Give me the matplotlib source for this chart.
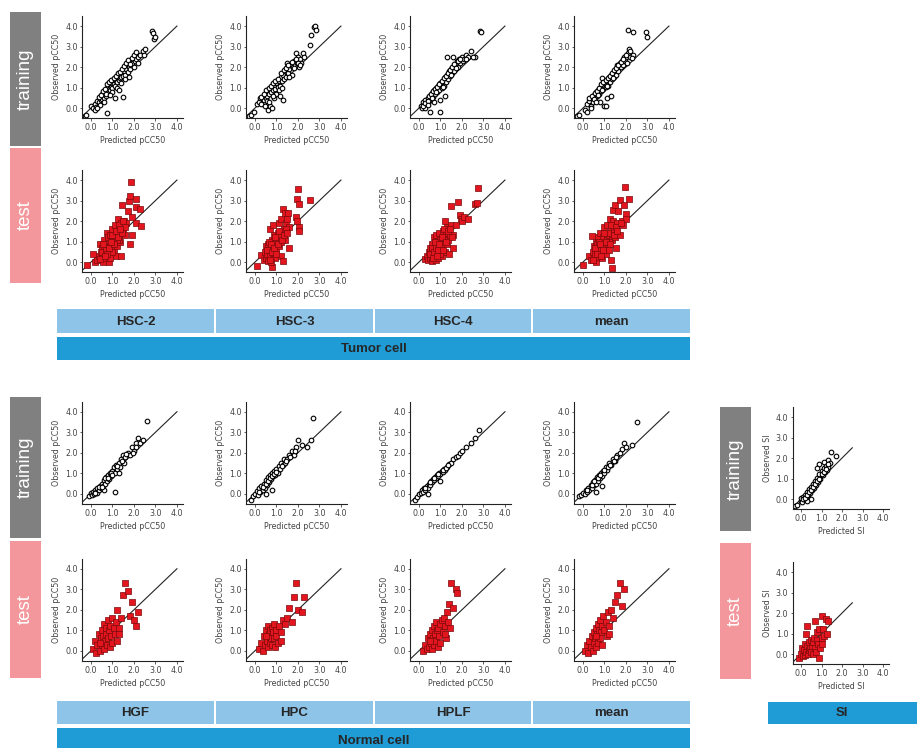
import numpy as np
import matplotlib
matplotlib.use("Agg")
import matplotlib.pyplot as plt
from matplotlib.patches import Rectangle

# ---------------- data (predicted, observed) ----------------
hsc2_train = [(-0.3,-0.4),(-0.25,-0.35),(0.0,0.1),(0.1,0.0),(0.2,0.2),(0.25,0.05),(0.3,0.35),(0.35,0.3),(0.4,0.5),(0.45,0.4),(0.5,0.45),(0.5,0.7),(0.55,0.6),(0.6,0.5),(0.6,0.8),(0.65,0.75),(0.7,0.9),(0.7,0.6),(0.75,1.0),(0.8,0.8),(0.8,1.1),(0.85,0.95),(0.9,0.9),(0.9,1.2),(0.95,1.05),(1.0,1.0),(1.0,1.3),(1.05,1.15),(1.1,1.1),(1.1,1.4),(1.15,1.3),(1.2,1.25),(1.25,1.5),(1.3,1.35),(1.3,1.6),(1.35,1.45),(1.4,1.5),(1.45,1.7),(1.5,1.55),(1.55,1.8),(1.6,1.6),(1.65,1.9),(1.7,1.75),(1.75,2.0),(1.8,1.9),(1.85,2.1),(1.9,2.2),(2.0,2.0),(2.05,2.3),(2.1,2.4),(2.2,2.5),(2.3,2.6),(2.4,2.8),(2.45,2.6),(2.5,2.9),(2.85,3.75),(2.9,3.65),(2.95,3.35),(3.0,3.45),(0.75,-0.25),(1.1,0.5),(1.5,0.55),(0.2,-0.1),(0.4,0.15),
              (0.35,0.55),(0.45,0.65),(0.55,0.85),(0.65,0.95),(0.7,0.7),(0.75,1.15),(0.85,1.25),(0.95,1.35),(1.0,0.8),(1.05,1.45),(1.15,1.55),(1.2,1.0),(1.25,1.7),(1.35,1.75),(1.4,1.2),(1.45,1.9),(1.55,2.05),(1.6,1.4),(1.65,2.2),(1.7,2.35),(1.8,2.15),(1.9,2.45),(2.0,2.6),(2.1,2.75),(2.2,2.2),(0.9,0.65),(0.6,0.3),(0.3,0.0),(1.3,0.9),(1.75,1.5)]
hsc2_test = [(-0.2,-0.15),(0.1,0.4),(0.2,0.0),(0.3,0.1),(0.35,0.3),(0.4,0.9),(0.45,0.5),(0.5,0.2),(0.5,0.7),(0.55,0.0),(0.6,0.4),(0.6,1.1),(0.65,0.6),(0.7,0.2),(0.7,0.9),(0.75,1.4),(0.8,0.5),(0.8,1.2),(0.85,0.0),(0.9,0.8),(0.9,1.3),(0.95,0.4),(1.0,1.0),(1.0,1.6),(1.05,0.6),(1.1,1.2),(1.1,1.8),(1.15,0.3),(1.2,1.4),(1.2,0.8),(1.25,2.1),(1.3,1.5),(1.35,1.0),(1.4,1.9),(1.4,0.3),(1.45,2.8),(1.5,1.6),(1.55,2.0),(1.6,1.3),(1.65,1.9),(1.7,2.5),(1.75,3.0),(1.8,3.2),(1.8,0.9),(1.85,3.9),(1.9,2.2),(1.9,1.3),(2.1,3.1),(2.1,2.7),(2.1,1.9),(2.3,2.6),(2.35,1.75),(1.3,1.1),(0.9,0.2),(1.0,0.5),(0.6,0.8),(1.2,1.1),(0.4,0.15),
             (0.5,0.5),(0.7,0.6),(0.75,0.4),(0.85,0.7),(1.0,1.3),(1.05,0.9),(1.15,1.5),(1.25,1.2),(1.3,1.8),(1.45,1.4),(1.5,2.0),(1.6,1.7),(0.65,0.3),(0.55,0.9),(0.95,1.0),(1.35,1.6)]
hsc3_train = [(-0.3,-0.4),(-0.2,-0.35),(-0.05,-0.2),(0.1,0.2),(0.2,0.3),(0.25,0.5),(0.3,0.2),(0.35,0.55),(0.4,0.4),(0.45,0.65),(0.5,0.5),(0.5,0.75),(0.55,0.6),(0.6,0.85),(0.6,-0.1),(0.65,0.7),(0.7,0.95),(0.7,0.1),(0.75,0.8),(0.8,1.0),(0.8,0.0),(0.85,0.9),(0.9,1.1),(0.95,0.95),(1.0,1.2),(1.0,0.7),(1.05,1.05),(1.1,1.3),(1.15,1.1),(1.2,1.5),(1.25,1.3),(1.3,1.6),(1.3,0.4),(1.35,1.4),(1.4,1.8),(1.45,1.5),(1.5,2.0),(1.5,2.2),(1.55,1.7),(1.6,1.9),(1.65,2.1),(1.7,1.6),(1.75,2.0),(1.8,2.3),(1.85,2.1),(1.9,2.7),(1.95,2.2),(2.0,2.5),(2.05,2.0),(2.1,2.4),(2.15,2.2),(2.25,2.7),(2.3,2.5),(2.55,3.1),(2.6,3.55),(2.75,3.95),(2.8,4.0),(2.85,3.8),(1.15,0.6),(0.9,0.5),
              (0.3,0.55),(0.4,0.7),(0.5,0.9),(0.55,0.35),(0.65,1.0),(0.75,1.1),(0.85,1.2),(0.95,1.3),(1.05,1.4),(1.1,0.9),(1.2,1.7),(1.25,1.0),(1.35,1.85),(1.45,1.95),(1.55,2.1),(1.6,1.5),(1.7,2.25),(1.8,1.95),(1.9,2.4),(2.0,2.2),(2.1,2.1),(0.45,0.1),(0.65,0.3),(0.85,0.6)]
hsc3_test = [(0.1,-0.2),(0.3,0.35),(0.4,0.1),(0.45,0.5),(0.5,0.2),(0.5,0.8),(0.55,0.4),(0.6,0.05),(0.6,0.9),(0.65,0.6),(0.7,1.6),(0.7,0.3),(0.75,0.7),(0.8,1.1),(0.8,-0.25),(0.85,1.8),(0.85,0.45),(0.9,0.9),(0.9,1.3),(0.95,0.2),(1.0,1.1),(1.0,0.6),(1.05,1.4),(1.1,0.8),(1.1,1.9),(1.15,1.2),(1.2,0.3),(1.2,2.1),(1.25,1.5),(1.3,2.6),(1.3,0.05),(1.35,1.6),(1.4,2.4),(1.4,1.1),(1.45,1.9),(1.5,2.1),(1.55,2.4),(1.6,0.7),(1.6,1.7),(1.9,2.2),(1.95,3.1),(1.95,2.0),(2.0,3.55),(2.05,2.85),(2.05,1.7),(2.05,1.5),(2.55,3.05),(1.0,1.0),(0.75,0.0),(1.2,1.0),
             (0.55,0.6),(0.65,1.0),(0.75,0.9),(0.8,0.5),(0.9,0.7),(0.95,1.2),(1.05,0.9),(1.1,1.5),(1.25,1.1),(1.35,1.3),(1.45,1.6),(1.5,1.4),(0.7,0.1),(1.0,0.4)]
hsc4_train = [(0.1,0.1),(0.15,0.0),(0.2,0.3),(0.25,0.15),(0.3,0.4),(0.35,0.2),(0.4,0.5),(0.45,0.35),(0.5,0.6),(0.5,-0.2),(0.55,0.45),(0.6,0.75),(0.65,0.55),(0.7,0.9),(0.75,0.7),(0.8,1.0),(0.85,0.8),(0.9,1.1),(0.95,0.9),(1.0,1.2),(1.0,-0.2),(1.0,0.4),(1.05,1.0),(1.1,1.3),(1.15,1.1),(1.2,1.5),(1.2,0.6),(1.25,1.25),(1.3,1.6),(1.3,2.5),(1.35,1.4),(1.4,1.8),(1.45,1.55),(1.5,1.9),(1.55,1.7),(1.6,2.5),(1.6,2.0),(1.65,1.8),(1.7,2.1),(1.75,2.3),(1.8,2.0),(1.85,2.4),(1.9,2.2),(2.0,2.5),(2.05,2.3),(2.1,2.4),(2.2,2.6),(2.3,2.5),(2.4,2.8),(2.6,2.5),(2.85,3.75),(2.9,3.7),(0.3,0.0),(0.7,0.3),
              (0.2,0.1),(0.3,0.25),(0.4,0.35),(0.45,0.6),(0.55,0.7),(0.6,0.5),(0.65,0.85),(0.75,0.95),(0.8,0.8),(0.85,1.05),(0.95,1.15),(1.05,1.3),(1.1,1.05),(1.15,1.45),(1.25,1.55),(1.35,1.7),(1.45,1.85),(1.5,1.6),(1.55,2.0),(1.65,2.15),(1.7,1.95),(1.8,2.3),(1.9,2.4),(2.2,2.4),(2.5,2.5),(0.4,0.15)]
hsc4_test = [(0.3,0.15),(0.35,0.3),(0.4,0.1),(0.45,0.5),(0.5,0.2),(0.5,0.7),(0.55,0.4),(0.6,0.9),(0.6,0.05),(0.65,0.6),(0.7,1.2),(0.7,0.3),(0.75,0.8),(0.8,1.3),(0.8,0.1),(0.85,0.5),(0.9,1.0),(0.9,0.2),(0.95,1.4),(1.0,0.7),(1.0,1.1),(1.05,0.3),(1.1,1.5),(1.1,0.9),(1.15,1.2),(1.2,0.5),(1.2,2.0),(1.25,1.4),(1.3,1.7),(1.3,0.9),(1.35,1.1),(1.4,1.6),(1.4,0.4),(1.45,1.3),(1.5,1.8),(1.6,0.7),(1.6,1.3),(1.5,2.75),(1.8,2.95),(1.9,2.3),(1.95,2.1),(2.0,2.0),(2.1,2.2),(2.3,2.1),(2.6,2.85),(2.7,2.9),(2.75,3.6),(1.0,0.4),(0.6,0.5),(1.7,1.8),
             (0.5,0.4),(0.6,0.7),(0.7,0.5),(0.75,1.0),(0.8,0.7),(0.9,0.6),(0.95,0.9),(1.05,1.2),(1.1,0.6),(1.15,1.6),(1.25,1.0),(1.35,1.5),(1.45,1.6),(1.55,1.2),(0.65,0.2),(0.85,0.3)]
tmean_train = [(-0.3,-0.4),(-0.2,-0.35),(0.1,-0.1),(0.2,0.2),(0.2,-0.2),(0.3,0.35),(0.35,0.1),(0.4,0.5),(0.45,0.3),(0.5,0.65),(0.55,0.45),(0.6,0.8),(0.65,0.6),(0.7,0.9),(0.75,0.7),(0.8,1.0),(0.85,0.85),(0.9,1.1),(0.95,0.95),(1.0,1.2),(1.0,0.1),(1.05,0.1),(1.05,1.05),(1.1,1.3),(1.1,0.5),(1.15,1.1),(1.2,1.5),(1.25,1.25),(1.3,1.6),(1.3,0.6),(1.35,1.4),(1.4,1.7),(1.45,1.5),(1.5,1.85),(1.55,1.6),(1.6,2.0),(1.6,2.1),(1.65,1.8),(1.7,2.2),(1.75,2.0),(1.8,2.3),(1.85,2.1),(1.9,2.5),(1.95,2.3),(2.0,2.5),(2.05,2.2),(2.1,2.7),(2.15,2.9),(2.2,2.5),(2.35,2.6),(2.1,3.8),(2.35,3.7),(2.95,3.7),(3.0,3.45),(0.9,1.45),(0.8,0.3),
               (0.3,0.5),(0.4,0.6),(0.5,0.45),(0.55,0.75),(0.65,0.85),(0.7,0.65),(0.75,1.0),(0.85,1.15),(0.9,0.9),(0.95,1.25),(1.05,1.35),(1.1,1.1),(1.15,1.45),(1.25,1.55),(1.35,1.7),(1.4,1.45),(1.45,1.85),(1.55,1.95),(1.65,2.1),(1.75,2.25),(1.85,2.4),(2.0,2.6),(2.2,2.8),(2.3,2.45),(0.6,0.3),(0.35,0.0)]
tmean_test = [(0.0,-0.15),(0.3,0.3),(0.35,0.1),(0.4,1.25),(0.45,0.5),(0.5,0.2),(0.5,0.8),(0.55,0.4),(0.6,0.0),(0.6,1.0),(0.65,0.6),(0.7,0.25),(0.7,1.2),(0.75,0.8),(0.8,0.4),(0.8,1.4),(0.85,0.6),(0.9,1.0),(0.9,0.2),(0.95,1.2),(1.0,0.7),(1.0,1.7),(1.05,0.4),(1.1,1.1),(1.1,1.8),(1.15,0.9),(1.2,1.3),(1.2,0.6),(1.25,2.1),(1.3,1.5),(1.3,0.1),(1.35,1.1),(1.35,-0.3),(1.4,2.0),(1.4,2.55),(1.45,1.6),(1.5,2.8),(1.5,1.2),(1.55,0.7),(1.6,1.9),(1.65,2.5),(1.7,3.05),(1.7,1.3),(1.8,2.0),(1.85,1.8),(1.9,2.8),(1.95,3.65),(2.0,2.35),(2.0,2.1),(2.15,3.1),(1.2,1.0),(0.65,0.9),
              (0.55,0.7),(0.65,0.4),(0.75,1.0),(0.8,0.9),(0.85,0.3),(0.95,0.6),(1.05,1.0),(1.15,1.4),(1.25,0.9),(1.3,1.8),(1.45,1.3),(1.55,1.7),(1.6,1.5),(1.75,1.9),(0.45,0.1),(1.0,1.4)]
hgf_train = [(-0.1,-0.1),(0.0,0.05),(0.05,-0.05),(0.1,0.1),(0.15,0.0),(0.2,0.2),(0.25,0.1),(0.3,0.3),(0.3,0.05),(0.35,0.2),(0.4,0.4),(0.45,0.3),(0.5,0.5),(0.55,0.4),(0.6,0.65),(0.65,0.5),(0.7,0.8),(0.75,0.6),(0.8,0.9),(0.85,0.7),(0.9,1.0),(0.95,0.85),(1.0,1.1),(1.05,1.3),(1.1,1.0),(1.1,0.1),(1.15,1.4),(1.2,1.2),(1.3,1.5),(1.35,1.3),(1.4,1.7),(1.5,1.9),(1.55,1.5),(1.6,1.8),(1.7,2.0),(1.8,1.9),(1.9,2.3),(2.0,2.1),(2.1,2.5),(2.2,2.7),(2.3,2.5),(2.4,2.6),(2.6,3.55),(0.6,0.2),(1.3,1.0),
             (0.2,0.05),(0.35,0.35),(0.5,0.35),(0.65,0.75),(0.8,0.75),(0.95,1.0),(1.0,0.9),(1.2,1.35),(1.45,1.6),(1.65,1.95),(1.95,2.0),(2.1,2.3)]
hgf_test = [(0.1,0.1),(0.2,0.5),(0.25,-0.1),(0.3,0.3),(0.35,0.8),(0.4,0.0),(0.45,0.6),(0.5,1.0),(0.5,0.3),(0.55,0.7),(0.6,1.3),(0.6,0.1),(0.65,0.5),(0.7,1.1),(0.7,0.8),(0.75,0.3),(0.8,1.5),(0.8,0.6),(0.85,1.0),(0.9,0.2),(0.9,1.2),(0.95,0.7),(1.0,1.6),(1.0,0.4),(1.05,1.1),(1.1,0.8),(1.15,1.4),(1.2,0.5),(1.2,2.0),(1.3,1.1),(1.4,1.6),(1.5,2.7),(1.6,3.3),(1.7,2.9),(1.8,1.7),(1.9,2.4),(2.0,1.5),(2.1,1.2),(2.2,1.9),(1.3,0.8),(0.4,0.4)]
hpc_train = [(-0.2,-0.3),(-0.1,-0.1),(0.0,0.0),(0.1,0.15),(0.15,-0.05),(0.2,0.3),(0.25,0.1),(0.3,0.4),(0.35,0.2),(0.4,0.5),(0.45,0.3),(0.5,0.65),(0.55,0.45),(0.6,0.8),(0.65,0.55),(0.7,0.9),(0.75,0.7),(0.8,1.0),(0.85,0.85),(0.9,1.1),(0.95,0.9),(1.0,1.2),(1.05,1.0),(1.1,1.35),(1.15,1.2),(1.2,1.5),(1.3,1.4),(1.35,1.7),(1.4,1.5),(1.5,1.7),(1.6,1.9),(1.7,2.1),(1.8,1.9),(1.9,2.3),(2.0,2.6),(2.2,2.4),(2.4,2.3),(2.6,2.6),(2.7,3.7),(0.8,0.2),(0.5,0.0),
             (0.2,0.1),(0.35,0.35),(0.5,0.5),(0.6,0.6),(0.7,0.75),(0.8,0.85),(0.9,0.95),(1.0,1.05),(1.25,1.35),(1.45,1.6),(1.65,1.8),(1.85,2.1)]
hpc_test = [(0.2,0.1),(0.3,0.4),(0.35,0.0),(0.4,0.7),(0.45,0.3),(0.5,1.0),(0.55,0.5),(0.6,0.2),(0.6,1.2),(0.65,0.8),(0.7,0.4),(0.7,1.0),(0.75,0.6),(0.8,1.1),(0.8,0.3),(0.85,0.9),(0.9,0.6),(0.9,1.3),(0.95,0.2),(1.0,1.0),(1.0,0.7),(1.05,0.4),(1.1,1.2),(1.2,0.9),(1.3,1.5),(1.4,1.3),(1.5,1.6),(1.6,2.1),(1.7,1.4),(1.8,2.6),(1.9,3.3),(2.0,2.0),(2.2,1.9),(2.3,2.6),(1.2,0.5),(0.5,0.7)]
hplf_train = [(-0.2,-0.3),(-0.1,-0.15),(0.0,0.0),(0.1,0.05),(0.15,0.2),(0.2,0.1),(0.25,0.3),(0.3,0.2),(0.35,0.4),(0.4,0.3),(0.45,0.5),(0.5,0.45),(0.55,0.6),(0.6,0.55),(0.65,0.7),(0.7,0.65),(0.75,0.8),(0.8,0.75),(0.85,0.9),(0.9,0.85),(0.95,1.0),(1.0,0.95),(1.05,1.1),(1.1,1.05),(1.15,1.2),(1.2,1.15),(1.3,1.3),(1.4,1.45),(1.5,1.5),(1.6,1.7),(1.7,1.8),(1.8,1.85),(1.9,2.0),(2.0,2.1),(2.2,2.3),(2.4,2.5),(2.6,2.7),(2.8,3.1),(0.4,0.0),(1.0,0.6),
              (0.3,0.3),(0.5,0.55),(0.7,0.75),(0.9,0.95),(1.1,1.15),(1.25,1.25),(1.35,1.4)]
hplf_test = [(0.2,0.0),(0.3,0.3),(0.35,0.1),(0.4,0.6),(0.45,0.2),(0.5,0.8),(0.55,0.4),(0.6,0.1),(0.6,1.0),(0.65,0.6),(0.7,1.2),(0.7,0.3),(0.75,0.8),(0.8,0.5),(0.8,1.4),(0.85,1.0),(0.9,0.2),(0.9,1.1),(0.95,0.7),(1.0,1.3),(1.0,0.4),(1.05,1.5),(1.1,0.9),(1.15,1.6),(1.2,1.2),(1.25,0.6),(1.3,1.9),(1.35,1.4),(1.4,2.3),(1.45,1.1),(1.5,3.3),(1.6,2.1),(1.7,3.0),(1.75,2.8),(1.2,0.8),(0.5,0.5)]
nmean_train = [(-0.2,-0.1),(-0.1,-0.05),(0.0,0.05),(0.1,0.0),(0.15,0.2),(0.2,0.1),(0.25,0.3),(0.3,0.2),(0.35,0.45),(0.4,0.3),(0.45,0.55),(0.5,0.45),(0.55,0.65),(0.6,0.5),(0.65,0.8),(0.7,0.6),(0.75,0.9),(0.8,0.75),(0.85,1.0),(0.9,0.85),(0.95,1.1),(1.0,1.0),(1.05,1.3),(1.1,1.15),(1.2,1.5),(1.3,1.4),(1.4,1.7),(1.5,1.6),(1.6,1.9),(1.7,2.0),(1.8,2.2),(1.9,2.5),(2.0,2.3),(2.3,2.4),(2.5,3.5),(0.6,0.1),(0.9,0.4),
               (0.2,0.2),(0.4,0.45),(0.5,0.6),(0.7,0.75),(0.8,0.9),(1.0,1.15),(1.15,1.3),(1.25,1.4),(1.45,1.6),(1.55,1.8)]
nmean_test = [(0.1,0.0),(0.2,0.3),(0.25,-0.1),(0.3,0.5),(0.35,0.2),(0.4,0.7),(0.45,0.0),(0.5,0.4),(0.5,0.9),(0.55,0.6),(0.6,1.1),(0.6,0.2),(0.65,0.8),(0.7,0.4),(0.7,1.3),(0.75,1.0),(0.8,0.6),(0.8,1.5),(0.85,0.9),(0.9,1.2),(0.9,0.3),(0.95,1.7),(1.0,1.0),(1.05,1.4),(1.1,0.7),(1.15,1.9),(1.2,1.2),(1.3,2.0),(1.4,1.6),(1.5,2.4),(1.6,2.7),(1.7,3.3),(1.8,2.2),(1.9,3.0),(1.2,0.8),(0.6,0.7)]
si_train = [(-0.3,-0.35),(-0.2,-0.3),(0.0,-0.1),(0.0,0.05),(0.05,-0.15),(0.1,0.1),(0.15,0.0),(0.2,0.2),(0.25,0.1),(0.3,0.35),(0.35,0.2),(0.4,0.5),(0.45,0.3),(0.5,0.6),(0.55,0.45),(0.6,0.75),(0.65,0.55),(0.7,0.9),(0.75,0.7),(0.8,1.05),(0.85,0.85),(0.9,1.2),(0.9,1.7),(0.95,1.0),(1.0,1.35),(1.05,1.15),(1.1,1.5),(1.15,1.3),(1.2,1.6),(1.25,1.4),(1.3,1.55),(1.3,1.9),(1.4,1.75),(1.45,2.3),(1.7,2.1),(0.5,0.0),(0.3,-0.1),(0.8,1.5),(1.1,1.8),
            (0.1,0.0),(0.2,0.05),(0.3,0.2),(0.4,0.35),(0.5,0.45),(0.6,0.6),(0.7,0.75),(0.8,0.9),(0.9,1.0),(1.0,1.2),(1.1,1.3),(1.2,1.45),(1.3,1.7)]
si_test = [(-0.1,-0.2),(0.0,0.0),(0.05,0.3),(0.1,-0.1),(0.15,0.2),(0.2,0.5),(0.2,-0.05),(0.25,0.1),(0.25,1.0),(0.3,0.4),(0.3,1.35),(0.35,0.0),(0.4,0.6),(0.4,0.2),(0.45,0.3),(0.5,0.7),(0.5,0.1),(0.55,0.4),(0.6,0.0),(0.6,0.6),(0.65,0.8),(0.7,0.3),(0.7,1.6),(0.75,0.1),(0.8,0.7),(0.8,1.1),(0.85,0.5),(0.9,-0.2),(0.9,1.2),(0.95,0.3),(1.0,0.8),(1.0,1.85),(1.05,1.2),(1.1,0.9),(1.2,1.7),(1.3,1.6),(1.25,1.0),(1.0,0.5)]

tumor_labels = ["HSC-2", "HSC-3", "HSC-4", "mean"]
normal_labels = ["HGF", "HPC", "HPLF", "mean"]
tick_values = [0, 1, 2, 3, 4]
tick_labels = ["0.0", "1.0", "2.0", "3.0", "4.0"]

# ---------------- figure ----------------
W, H = 917, 748
fig = plt.figure(figsize=(W / 100, H / 100), dpi=100)
plt.rcParams['font.family'] = ['DejaVu Sans']

bg = fig.add_axes([0, 0, 1, 1])
bg.set_xlim(0, W)
bg.set_ylim(H, 0)
bg.axis('off')

GRAY = '#808081'
PINK = '#f4979c'
LBLUE = '#8ec4e8'
DBLUE = '#1f9bd6'

def rect(x0, y0, x1, y1, color):
    bg.add_patch(Rectangle((x0, y0), x1 - x0, y1 - y0, color=color, lw=0))

def side_label(x0, y0, x1, y1, color, text):
    rect(x0, y0, x1, y1, color)
    bg.text((x0 + x1) / 2, (y0 + y1) / 2, text, rotation=90, color='white',
            ha='center', va='center', fontsize=13.5, family='Liberation Sans')

# side bars
side_label(10, 12, 41, 146, GRAY, 'training')
side_label(10, 148, 41, 283, PINK, 'test')
side_label(10, 397, 41, 538, GRAY, 'training')
side_label(10, 541, 41, 678, PINK, 'test')
side_label(720, 407, 751, 531, GRAY, 'training')
side_label(720, 543, 751, 679, PINK, 'test')

# header bars
seg_x = [(57, 214), (216, 373), (375, 531), (533, 690)]
for (a, b), lab in zip(seg_x, tumor_labels):
    rect(a, 309, b, 333, LBLUE)
    bg.text((a + b) / 2, 321.5, lab, ha='center', va='center', fontsize=9.5,
            fontweight='bold', color='#262626', family='Liberation Sans')
rect(57, 337, 690, 360, DBLUE)
bg.text(373.5, 348.5, 'Tumor cell', ha='center', va='center', fontsize=9.5,
        fontweight='bold', color='#262626', family='Liberation Sans')
for (a, b), lab in zip(seg_x, normal_labels):
    rect(a, 701, b, 724, LBLUE)
    bg.text((a + b) / 2, 713, lab, ha='center', va='center', fontsize=9.5,
            fontweight='bold', color='#262626', family='Liberation Sans')
rect(57, 728, 690, 752, DBLUE)
bg.text(373.5, 741, 'Normal cell', ha='center', va='center', fontsize=9.5,
        fontweight='bold', color='#262626', family='Liberation Sans')
rect(768, 702, 917, 724, DBLUE)
bg.text(842, 713, 'SI', ha='center', va='center', fontsize=9.5,
        fontweight='bold', color='#262626', family='Liberation Sans')

# ---------------- scatter panels ----------------
def panel(left, top, w, h, data, kind, xlabel, ylabel, line_end):
    ax = fig.add_axes([left / W, 1 - (top + h) / H, w / W, h / H])
    pts = np.array(data)
    ax.plot([-0.4, line_end], [-0.4, line_end], color='#222222', lw=0.8, zorder=1)
    if kind == 'train':
        ax.scatter(pts[:, 0], pts[:, 1], s=11, facecolors='white', edgecolors='black',
                   linewidths=0.8, marker='o', zorder=2)
    else:
        ax.scatter(pts[:, 0], pts[:, 1], s=14, facecolors='#e3161f', edgecolors='#7a0a0a',
                   linewidths=0.5, marker='s', zorder=2)
    ax.set_xlim(-0.4, 4.3)
    ax.set_ylim(-0.5, 4.5)
    ax.set_xticks(tick_values)
    ax.set_yticks(tick_values)
    ax.set_xticklabels(tick_labels)
    ax.set_yticklabels(tick_labels)
    ax.tick_params(labelsize=5.7, colors='#444444', length=1.8, width=0.6, pad=1.5)
    for s in ['top', 'right']:
        ax.spines[s].set_visible(False)
    for s in ['left', 'bottom']:
        ax.spines[s].set_color('#222222')
        ax.spines[s].set_linewidth(0.8)
    ax.set_xlabel(xlabel, fontsize=5.7, color='#444444', labelpad=3)
    ax.set_ylabel(ylabel, fontsize=5.7, color='#444444', labelpad=3)
    ax.patch.set_alpha(0)
    return ax

col_left = [82.4, 246.4, 410.4, 574.4]
pw, ph = 101, 102.5
tumor_train = [hsc2_train, hsc3_train, hsc4_train, tmean_train]
tumor_test = [hsc2_test, hsc3_test, hsc4_test, tmean_test]
normal_train = [hgf_train, hpc_train, hplf_train, nmean_train]
normal_test = [hgf_test, hpc_test, hplf_test, nmean_test]

for i in range(4):
    panel(col_left[i], 15.8, pw, ph, tumor_train[i], 'train', 'Predicted pCC50', 'Observed pCC50', 4.0)
    panel(col_left[i], 169.8, pw, ph, tumor_test[i], 'test', 'Predicted pCC50', 'Observed pCC50', 4.0)
    panel(col_left[i], 401.5, pw, ph, normal_train[i], 'train', 'Predicted pCC50', 'Observed pCC50', 4.0)
    panel(col_left[i], 558.5, pw, ph, normal_test[i], 'test', 'Predicted pCC50', 'Observed pCC50', 4.0)

panel(792.8, 406.8, 96.4, 102.5, si_train, 'train', 'Predicted SI', 'Observed SI', 2.5)
panel(792.8, 561.8, 96.4, 102.5, si_test, 'test', 'Predicted SI', 'Observed SI', 2.5)

fig.savefig('out.png', dpi=100)
